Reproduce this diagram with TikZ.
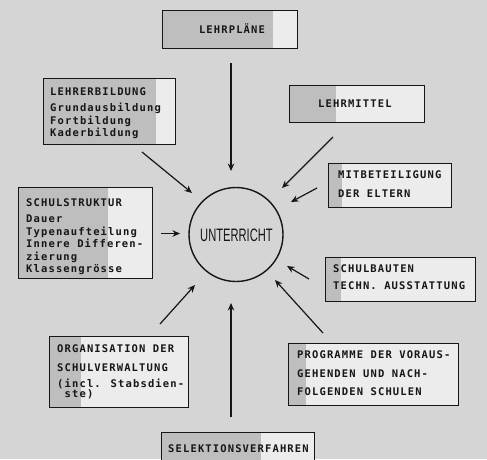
\documentclass[tikz,border=0pt]{standalone}
\usepackage{fontspec}
\usetikzlibrary{arrows.meta}
\newfontfamily\boxfont[LetterSpace=10.8]{DejaVu Sans Mono Bold}
\newfontfamily\circfont{Liberation Sans}
\definecolor{bgcol}{RGB}{213,213,213}
\definecolor{boxcol}{RGB}{236,236,236}
\definecolor{shadecol}{RGB}{190,190,190}
\definecolor{inkcol}{RGB}{22,22,22}
\tikzset{
  box/.style={draw=inkcol, line width=1.3pt, fill=boxcol, inner sep=0pt, anchor=north west},
  shaded/.style={path picture={\fill[shadecol] (path picture bounding box.south west) rectangle ([xshift=#1]path picture bounding box.north west);}},
  txt/.style={inner sep=0pt, align=left, text=inkcol, font=\boxfont\fontsize{10.5}{18.5}\selectfont},
  tight/.style={font=\boxfont\fontsize{10.5}{12.5}\selectfont},
  arr/.style={draw=inkcol, line width=1.2pt, -{Stealth[length=7.5pt,width=6.5pt]}},
}
\begin{document}
\begin{tikzpicture}[x=1pt,y=-1pt]
\fill[bgcol] (0,0) rectangle (487,459);
\useasboundingbox (0,0) rectangle (487,459);
% boxes
\node[box, shaded=110pt, minimum width=135pt, minimum height=38pt] (lp) at (162,10) {};
\node[box, shaded=112pt, minimum width=132pt, minimum height=66pt] (lb) at (43,78) {};
\node[box, shaded=46pt, minimum width=135pt, minimum height=37pt] (lm) at (289,85) {};
\node[box, shaded=13pt, minimum width=123pt, minimum height=44pt] (mb) at (328,163) {};
\node[box, shaded=89pt, minimum width=134pt, minimum height=91pt] (ss) at (18,187) {};
\node[box, shaded=15pt, minimum width=150pt, minimum height=44pt] (sb) at (325,257) {};
\node[box, shaded=31pt, minimum width=139pt, minimum height=71pt] (og) at (49,336) {};
\node[box, shaded=17pt, minimum width=170pt, minimum height=62pt] (pg) at (288,343) {};
\node[box, shaded=99pt, minimum width=153pt, minimum height=40pt] (se) at (161,432) {};
% texts (multi-line nodes anchored at the baseline of their last line)
\node[txt, anchor=base] (lpt) at (232,33.5) {LEHRPLÄNE};
\node[txt, tight, anchor=base west] (lbt) at (50,136.5) {LEHRERBILDUNG\\[3.5pt]Grundausbildung\\Fortbildung\\Kaderbildung};
\node[txt, anchor=base west] (lmt) at (318,107.5) {LEHRMITTEL};
\node[txt, anchor=base west] (mbt) at (338,197.5) {MITBETEILIGUNG\\[0.5pt]DER ELTERN};
\node[txt, tight, anchor=base west] (sst) at (26,272.5) {SCHULSTRUKTUR\\[3.5pt]Dauer\\Typenaufteilung\\Innere Differen-\\zierung\\Klassengrösse};
\node[txt, anchor=base west] (sbt) at (333,289.5) {SCHULBAUTEN\\[-1.5pt]TECHN. AUSSTATTUNG};
\node[txt, anchor=base west] (ogt) at (57,397.5) {ORGANISATION DER\\[0.5pt]SCHULVERWALTUNG\\[-2.5pt](incl. Stabsdien-\\[-8.5pt]\ ste)};
\node[txt, anchor=base west] (pgt) at (297,395.5) {PROGRAMME DER VORAUS-\\GEHENDEN UND NACH-\\FOLGENDEN SCHULEN};
\node[txt, anchor=base west] (set) at (168,452.5) {SELEKTIONSVERFAHREN};
% centre
\node[draw=inkcol, line width=1.4pt, circle, minimum size=94pt, inner sep=0pt] (U) at (236,234.5) {};
\node[text=inkcol, font=\circfont\fontsize{18}{18}\selectfont, inner sep=0pt] (Ut) at (236.5,235) {\scalebox{0.62}[1]{UNTERRICHT}};
% arrow ends
\coordinate (a1) at (231,63);  \coordinate (b1) at (231,171);
\coordinate (a2) at (142,152); \coordinate (b2) at (192,193);
\coordinate (a3) at (333,137); \coordinate (b3) at (282,188);
\coordinate (a4) at (317,188); \coordinate (b4) at (291,202);
\coordinate (a5) at (161,233.5); \coordinate (b5) at (180,233.5);
\coordinate (a6) at (309,279); \coordinate (b6) at (287,266);
\coordinate (a7) at (323,333); \coordinate (b7) at (275,280);
\coordinate (a8) at (160,324); \coordinate (b8) at (195,285);
\coordinate (a9) at (231,417); \coordinate (b9) at (231,303);
\foreach \i in {1,...,9} {\draw[arr] (a\i) -- (b\i);}
\end{tikzpicture}
\end{document}
